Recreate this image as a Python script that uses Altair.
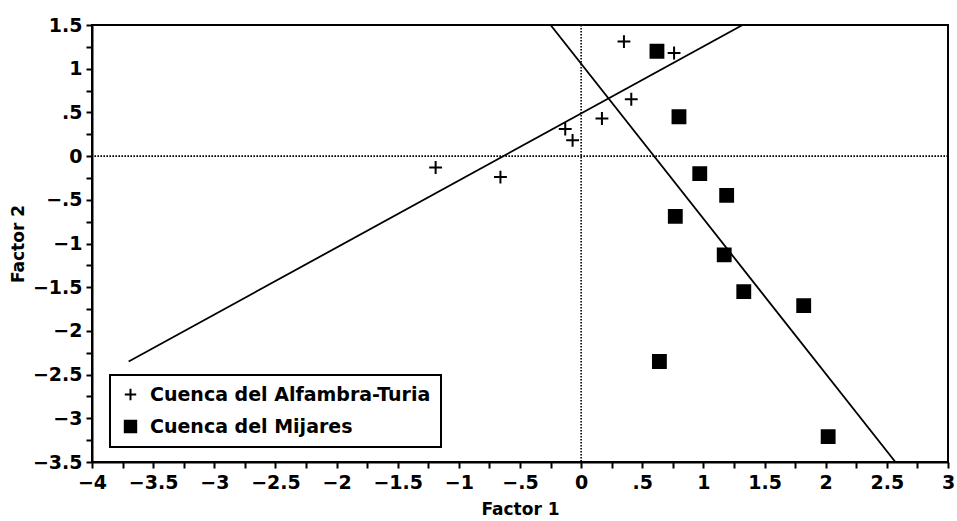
import altair as alt
import pandas as pd

# Data
alf_x = [-1.19, -0.66, -0.13, -0.07, 0.17, 0.41, 0.35, 0.76]
alf_y = [-0.13, -0.24, 0.31, 0.18, 0.43, 0.65, 1.31, 1.18]
mij_x = [0.62, 0.80, 0.97, 1.19, 0.77, 1.17, 1.33, 1.82, 0.64, 2.02]
mij_y = [1.20, 0.45, -0.20, -0.45, -0.69, -1.13, -1.55, -1.71, -2.35, -3.21]
series_names = ["Cuenca del Alfambra-Turia", "Cuenca del Mijares"]

line_ids = ["A", "A", "B", "B"]
line_x = [-3.70, 1.32, -0.25, 2.57]
line_y = [-2.35, 1.50, 1.50, -3.50]

x_ticks = [-4 + 0.25 * i for i in range(29)]
y_ticks = [-3.5 + 0.25 * i for i in range(21)]

pts = pd.DataFrame({
    "x": alf_x + mij_x,
    "y": alf_y + mij_y,
    "serie": [series_names[0]] * len(alf_x) + [series_names[1]] * len(mij_x),
})
lines = pd.DataFrame({"id": line_ids, "x": line_x, "y": line_y})
zero_x = pd.DataFrame({"x": [0]})
zero_y = pd.DataFrame({"y": [0]})

FONT = "DejaVu Sans"
lab = "(datum.value*2) % 1 != 0 ? '' : replace(replace(toString(datum.value), '0.', '.'), '-', '\u2212')"

xscale = alt.Scale(domain=[-4, 3], nice=False, zero=False)
yscale = alt.Scale(domain=[-3.5, 1.5], nice=False, zero=False)

common = dict(grid=False, tickSize=6, labelFontSize=19, labelFont=FONT,
              labelFontWeight="bold", labelColor="black", tickColor="black",
              domainColor="black", domainWidth=2, tickWidth=2, labelFlush=False,
              labelOverlap=False, titleFont=FONT, titleFontSize=17, titleFontWeight="bold",
              titleColor="black", titleBaseline="middle")
xaxis = alt.Axis(values=x_ticks, labelExpr=lab, title="Factor 1", titleY=47,
                 labelPadding=5, **common)
yaxis = alt.Axis(values=y_ticks, labelExpr=lab, title="Factor 2", titleX=-74, titleY=218.5,
                 labelPadding=4, **common)

rule_x = alt.Chart(zero_x).mark_rule(color="black", strokeWidth=1.6, strokeDash=[1.6, 1.4]).encode(
    x=alt.X("x:Q", scale=xscale, axis=xaxis))
rule_y = alt.Chart(zero_y).mark_rule(color="black", strokeWidth=1.6, strokeDash=[1.6, 1.4]).encode(
    y=alt.Y("y:Q", scale=yscale, axis=yaxis))

line_layer = alt.Chart(lines).mark_line(color="black", strokeWidth=1.8, clip=True).encode(
    x=alt.X("x:Q", scale=xscale, axis=xaxis),
    y=alt.Y("y:Q", scale=yscale, axis=yaxis),
    detail="id:N",
)

plus_path = "M-1,0L1,0M0,-1L0,1"
leg = alt.Legend(title=None, orient="none", legendX=18, legendY=350,
                 labelFont=FONT, labelFontSize=19, labelFontWeight="bold", labelColor="black",
                 labelLimit=0, strokeColor="black", fillColor="white", padding=10,
                 rowPadding=11, symbolSize=130, symbolStrokeWidth=2,
                 labelOffset=10, cornerRadius=0, symbolOffset=1)
points = alt.Chart(pts).mark_point(opacity=1, strokeWidth=2, size=165).encode(
    x=alt.X("x:Q", scale=xscale, axis=xaxis),
    y=alt.Y("y:Q", scale=yscale, axis=yaxis),
    shape=alt.Shape("serie:N", scale=alt.Scale(domain=series_names, range=[plus_path, "square"]),
                    legend=leg),
    fill=alt.Fill("serie:N", scale=alt.Scale(domain=series_names, range=["transparent", "black"]),
                  legend=leg),
    stroke=alt.Stroke("serie:N", scale=alt.Scale(domain=series_names, range=["black", "black"]),
                      legend=leg),
)

chart = alt.layer(rule_x, rule_y, line_layer, points).properties(
    width=856, height=437,
    autosize=alt.AutoSizeParams(type="none"),
    padding={"left": 92, "top": 25, "right": 9, "bottom": 59},
    background="white",
).configure_view(stroke="black", strokeWidth=2).configure_legend(
    strokeWidth=2
)

chart.save("out.html", embed_options={"renderer": "svg", "actions": False})
